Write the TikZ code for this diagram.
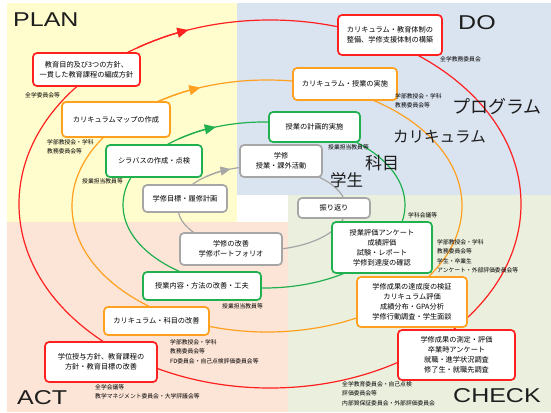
\documentclass[tikz,border=0pt]{standalone}
\usepackage{fontspec}
\setmainfont{Liberation Sans}
\newfontfamily\jp{Noto Sans CJK JP}
\newfontfamily\phasefont[FakeStretch=1.25]{Liberation Sans}
\usetikzlibrary{arrows.meta}
\definecolor{cPlan}{RGB}{255,252,205}
\definecolor{cDo}{RGB}{218,227,240}
\definecolor{cAct}{RGB}{252,228,214}
\definecolor{cCheck}{RGB}{235,239,222}
\definecolor{cRed}{RGB}{255,32,32}
\definecolor{cOrange}{RGB}{255,160,32}
\definecolor{cGreen}{RGB}{32,176,80}
\definecolor{cGrey}{RGB}{166,166,166}
\definecolor{cText}{RGB}{30,30,30}
\tikzset{
  ring/.style={line width=1.2pt},
  box/.style={rounded corners=4pt, draw, line width=1.7pt, fill=white, align=center,
    font=\jp\fontsize{7.2}{10}\selectfont, inner sep=1pt, text=black},
  note/.style={font=\jp\fontsize{5.8}{9.5}\selectfont, align=left, inner sep=0pt,
    anchor=north west, text=black},
  phase/.style={font=\phasefont\fontsize{20}{20}\selectfont, inner sep=0pt, anchor=base west, text=cText},
  level/.style={font=\jp, inner sep=0pt, anchor=north west, text=cText},
  tip/.style={-{Triangle[length=11pt,width=10pt]}}
}
\begin{document}
\begin{tikzpicture}[x=1pt,y=-1pt]
\useasboundingbox (0,0) rectangle (551,412);
\fill[white] (0,0) rectangle (551,412);
% quadrants
\fill[cPlan] (7,3) rectangle (237,222);
\fill[cDo] (237,3) rectangle (551,195);
\fill[cAct] (7,222) rectangle (288,412);
\fill[cCheck] (288,195) rectangle (551,412);
% rings
\draw[ring, cRed] (270,204) ellipse [x radius=251, y radius=184];
\draw[ring, cOrange] (267,206) ellipse [x radius=195, y radius=126];
\draw[ring, cGreen] (264,205) ellipse [x radius=141, y radius=83];
\draw[ring, cGrey] (262,208) ellipse [x radius=84, y radius=42];
% arrow heads
\draw[ring, cRed, tip] (270,204) ++(238:251 and 184) arc[start angle=238, end angle=251, x radius=251, y radius=184];
\draw[ring, cOrange, tip] (267,206) ++(236:195 and 126) arc[start angle=236, end angle=250, x radius=195, y radius=126];
\draw[ring, cGreen, tip] (264,205) ++(233:141 and 83) arc[start angle=233, end angle=250, x radius=141, y radius=83];
\draw[ring, cGrey, -{Triangle[length=10pt,width=9pt]}] (262,208) ++(228:84 and 42) arc[start angle=228, end angle=248, x radius=84, y radius=42];
% phase labels
\node[phase] (plan) at (13,27) {PLAN};
\node[phase] (do) at (458,30) {DO};
\node[phase] (act) at (17,404) {ACT};
\node[phase] (check) at (453,402) {CHECK};
% level labels
\node[level, font=\jp\fontsize{18}{18}\selectfont] (prog) at (452,98) {プログラム};
\node[level, font=\jp\fontsize{15.5}{15.5}\selectfont] (curr) at (393,130) {カリキュラム};
\node[level, font=\jp\fontsize{17}{17}\selectfont] (subj) at (365,155) {科目};
\node[level, font=\jp\fontsize{16.5}{16.5}\selectfont] (stud) at (330,172) {学生};
% red boxes
\node[box, draw=cRed, minimum width=107pt, minimum height=33pt] (rP) at (86.5,69.5) {教育目的及び3つの方針、\\一貫した教育課程の編成方針};
\node[box, draw=cRed, minimum width=104pt, minimum height=40pt] (rD) at (390,35) {カリキュラム・教育体制の\\整備、学修支援体制の構築};
\node[box, draw=cRed, minimum width=117pt, minimum height=50pt] (rC) at (456.5,355) {学修成果の測定・評価\\卒業時アンケート\\就職・進学状況調査\\修了生・就職先調査};
\node[box, draw=cRed, minimum width=112pt, minimum height=40pt] (rA) at (101,362) {学位授与方針、教育課程の\\方針・教育目標の改善};
% orange boxes
\node[box, draw=cOrange, minimum width=108pt, minimum height=35pt] (oP) at (116,119.5) {カリキュラムマップの作成};
\node[box, draw=cOrange, minimum width=104pt, minimum height=32pt] (oD) at (345,84) {カリキュラム・授業の実施};
\node[box, draw=cOrange, minimum width=110pt, minimum height=50pt] (oC) at (412,302) {学修成果の達成度の検証\\カリキュラム評価\\成績分布・GPA分析\\学修行動調査・学生面談};
\node[box, draw=cOrange, minimum width=105pt, minimum height=28pt] (oA) at (156.5,321) {カリキュラム・科目の改善};
% green boxes
\node[box, draw=cGreen, minimum width=96pt, minimum height=32pt] (gP) at (154,161) {シラバスの作成・点検};
\node[box, draw=cGreen, minimum width=91pt, minimum height=30pt] (gD) at (314.5,127) {授業の計画的実施};
\node[box, draw=cGreen, minimum width=100pt, minimum height=51pt] (gC) at (382,247.5) {授業評価アンケート\\成績評価\\試験・レポート\\学修到達度の確認};
\node[box, draw=cGreen, minimum width=118pt, minimum height=28pt] (gA) at (202,286) {授業内容・方法の改善・工夫};
% grey boxes
\node[box, draw=cGrey, minimum width=84pt, minimum height=27pt] (yP) at (185,198.5) {学修目標・履修計画};
\node[box, draw=cGrey, minimum width=82pt, minimum height=32pt] (yD) at (281,161) {学修\\授業・課外活動};
\node[box, draw=cGrey, minimum width=72pt, minimum height=20pt] (yC) at (334,208) {振り返り};
\node[box, draw=cGrey, minimum width=102pt, minimum height=32pt] (yA) at (231,249) {学修の改善\\学修ポートフォリオ};
% notes
\node[note] (nrP) at (25,92) {全学委員会等};
\node[note] (noP) at (47,139) {学部教授会・学科\\教務委員会等};
\node[note] (ngP) at (82,178) {授業担当教員等};
\node[note] (nrD) at (440,56) {全学教務委員会};
\node[note] (noD) at (395,93) {学部教授会・学科\\教務委員会等};
\node[note] (ngD) at (328,144) {授業担当教員等};
\node[note] (ngC) at (408,212) {学科会議等};
\node[note] (noC) at (437,239) {学部教授会・学科\\教務委員会等\\学生・卒業生\\アンケート・外部評価委員会等};
\node[note] (nrC) at (342,381) {全学教育委員会・自己点検\\評価委員会等\\内部質保証委員会・外部評価委員会};
\node[note] (noA) at (170,339) {学部教授会・学科\\教務委員会等\\FD委員会・自己点検評価委員会等};
\node[note] (ngA) at (222,303) {授業担当教員等};
\node[note] (nrA) at (95,384) {全学会議等\\教学マネジメント委員会・大学評議会等};
\end{tikzpicture}
\end{document}
